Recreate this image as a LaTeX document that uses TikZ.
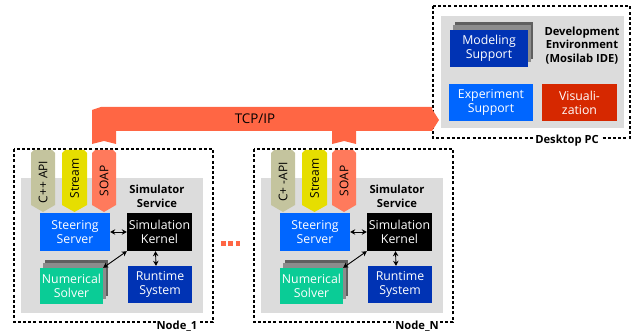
\documentclass[tikz,border=0pt]{standalone}
\usepackage{fontspec}
\setmainfont{Open Sans}
\usetikzlibrary{arrows.meta,calc}
\definecolor{panel}{RGB}{220,220,220}
\definecolor{lblue}{RGB}{0,102,255}
\definecolor{dblue}{RGB}{0,51,180}
\definecolor{sgreen}{RGB}{10,204,150}
\definecolor{vred}{RGB}{214,40,0}
\definecolor{bandc}{RGB}{255,102,68}
\definecolor{soapc}{RGB}{255,122,92}
\definecolor{streamc}{RGB}{230,222,0}
\definecolor{apic}{RGB}{196,196,158}
\definecolor{shdark}{RGB}{95,95,95}
\definecolor{shmid}{RGB}{140,140,140}
\tikzset{
  box/.style={inner sep=0pt, align=center, text=white, font=\fontsize{12.3}{14}\selectfont},
  dotbox/.style={line width=2.6pt, dash pattern=on 3pt off 2.2pt},
  lbl/.style={font=\fontsize{11.2}{13.5}\selectfont\bfseries, align=center, inner sep=1pt},
  tabtext/.style={rotate=90, font=\fontsize{12}{13}\selectfont, inner sep=0pt},
  arr/.style={{Stealth[length=5pt,width=5.5pt]}-{Stealth[length=5pt,width=5.5pt]}, line width=0.9pt},
  dotc/.style={fill=bandc, minimum size=4.5pt, inner sep=0pt}
}
\begin{document}
\begin{tikzpicture}[x=1pt,y=-1pt]
\useasboundingbox (0,0) rectangle (634,331);

% ---------- Desktop PC ----------
\fill[panel] (441,16) rectangle (624,128);
\draw[dotbox] (433,6) rectangle (630,138);
\node[lbl, fill=white] (dpc) at (567,141) {Desktop PC};
\node[box, fill=shdark, minimum width=78pt, minimum height=37pt] (modB) at (494,40.5) {};
\node[box, fill=shmid, minimum width=78pt, minimum height=37pt] (modM) at (491.5,44) {};
\node[box, fill=dblue, minimum width=78pt, minimum height=37pt] (mod) at (489,48.5) {Modeling\\Support};
\node[lbl] (devenv) at (582,45.5) {Development\\Environment\\(Mosilab IDE)};
\node[box, fill=lblue, minimum width=84pt, minimum height=37pt] (exp) at (491,102.5) {Experiment\\Support};
\node[box, fill=vred, minimum width=75pt, minimum height=37pt] (vis) at (579.5,102.5) {Visuali-\\zation};

% ---------- Simulation nodes ----------
\foreach \s/\n/\api/\lab in {0/1/{C++ API}/{Node\_1}, 240/N/{C+ -API}/{Node\_N}} {
\begin{scope}[xshift=\s]
  \fill[panel] (21,178) rectangle (203,313);
  \draw[dotbox] (14,149) rectangle (213,322);
  \node[lbl, fill=white] (lab\n) at (177,326) {\lab};
  % tabs
  \fill[apic] (31,153) -- (34,150) -- (52,150) -- (55,153) -- (55,205) -- (43,212) -- (31,205) -- cycle;
  \node[tabtext] (api\n) at (43,182) {\api};
  \fill[streamc] (62,153) -- (65,150) -- (84,150) -- (87,153) -- (87,205) -- (74.5,212) -- (62,205) -- cycle;
  \node[tabtext] (stream\n) at (74.5,178.5) {Stream};
  \fill[soapc] (92,153) -- (95,150) -- (113,150) -- (116,153) -- (116,205) -- (104,212) -- (92,205) -- cycle;
  \node[tabtext] (soap\n) at (104,181) {SOAP};
  % label
  \node[lbl] (sim\n) at (157,196.5) {Simulator\\Service};
  % boxes
  \node[box, fill=lblue, minimum width=70pt, minimum height=38pt] (steer\n) at (75,232) {Steering\\Server};
  \node[box, fill=black, minimum width=65pt, minimum height=38pt] (kern\n) at (159.5,232) {Simulation\\Kernel};
  \node[box, fill=shdark, minimum width=63pt, minimum height=36pt] (solvB\n) at (76.5,278) {};
  \node[box, fill=shmid, minimum width=63pt, minimum height=36pt] (solvM\n) at (74,281) {};
  \node[box, fill=sgreen, minimum width=63pt, minimum height=36pt] (solver\n) at (71.5,286) {Numerical\\Solver};
  \node[box, fill=dblue, minimum width=64pt, minimum height=37pt] (rt\n) at (160,284.5) {Runtime\\System};
  % connectors
  \draw[arr] (steer\n.east) -- (kern\n.west);
  \draw[arr] (kern\n.south west) -- (solver\n.north east);
  \draw[arr] ([xshift=-4pt]kern\n.south) -- ([xshift=-4pt]rt\n.north);
\end{scope}
}

% ---------- TCP/IP band ----------
\fill[bandc] (92,110) -- (101,107) -- (432,107) -- (432,109) -- (439,120) -- (432,131)
  -- (356,131) -- (356,144) -- (344,141) -- (332,144) -- (332,131)
  -- (116,131) -- (116,144) -- (104,141) -- (92,144) -- cycle;
\node[font=\fontsize{13.4}{15}\selectfont, inner sep=0pt] (tcp) at (255,119) {TCP/IP};

% ---------- ellipsis ----------
\node[dotc] (e1) at (223.3,243.7) {};
\node[dotc] (e2) at (230.5,243.7) {};
\node[dotc] (e3) at (237.8,243.7) {};
\end{tikzpicture}
\end{document}
